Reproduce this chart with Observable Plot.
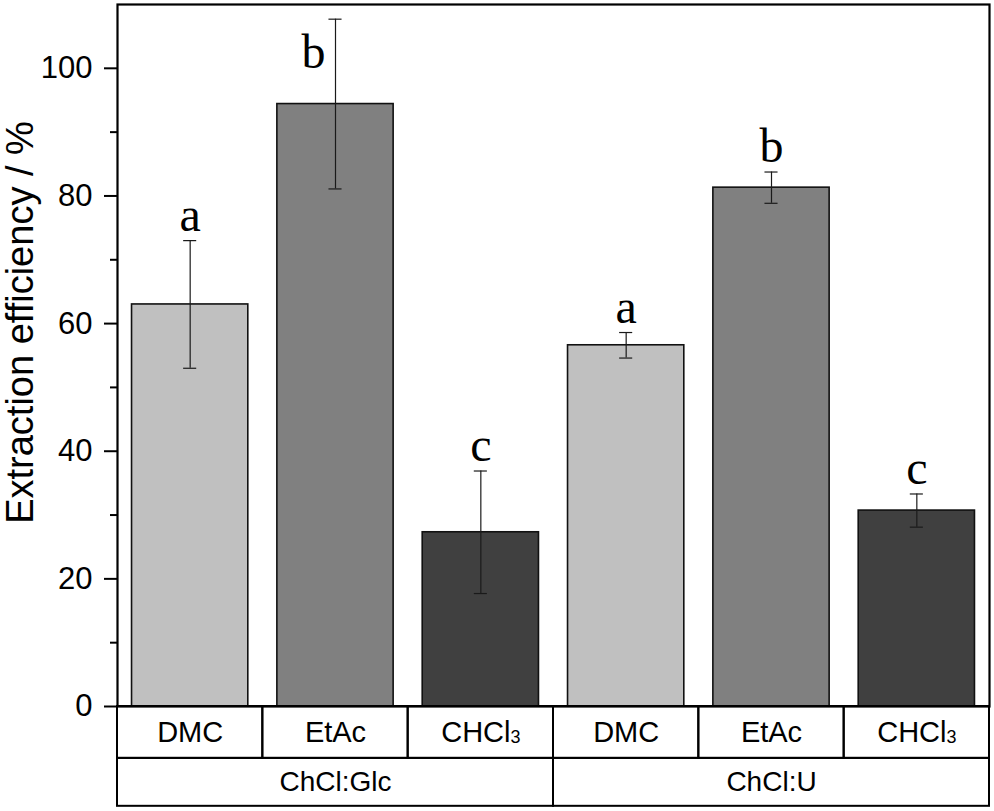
<!DOCTYPE html>
<html>
<head>
<meta charset="utf-8">
<script src="https://cdn.jsdelivr.net/npm/d3@7"></script>
<script src="https://cdn.jsdelivr.net/npm/@observablehq/plot@0.6"></script>
<style>
  html, body { margin: 0; padding: 0; background: #fff; }
  #chart svg { display: block; }
</style>
</head>
<body>
<div id="chart"></div>
<script>
// ---- data ----
const groups = ["ChCl:Glc", "ChCl:U"];
const solvents = ["DMC", "EtAc", "CHCl3"];
const meansGlc = [63.0, 94.4, 27.3];
const meansU = [56.6, 81.3, 30.7];
const errGlc = [10.0, 13.3, 9.6];
const errU = [2.0, 2.45, 2.6];
const lettersGlc = ["a", "b", "c"];
const lettersU = ["a", "b", "c"];
const majorTicks = [0, 20, 40, 60, 80, 100];
const minorTicks = [10, 30, 50, 70, 90];
const yLabel = "Extraction efficiency / %";

const fills = {DMC: "#c0c0c0", EtAc: "#808080", CHCl3: "#404040"};

// build table
const rows = [];
[[meansGlc, errGlc, lettersGlc], [meansU, errU, lettersU]].forEach(([m, e, l], g) => {
  solvents.forEach((s, j) => {
    const i = g * solvents.length + j;
    rows.push({i, group: groups[g], solvent: s, mean: m[j], err: e[j], letter: l[j]});
  });
});
const groupRows = groups.map((g, k) => ({group: g, x1: k * solvents.length, x2: (k + 1) * solvents.length}));

// layout (y in data units extends below 0 for the category table)
const row1 = [0, -8.13];
const row2 = [-8.13, -15.64];
const capHalf = 0.045;

const sans = "Arial, 'Liberation Sans', sans-serif";
const serif = "'Times New Roman', 'Liberation Serif', serif";

const plot = Plot.plot({
  width: 994,
  height: 811,
  marginLeft: 117,
  marginRight: 5,
  marginTop: 4,
  marginBottom: 105,
  style: {background: "#fff", fontFamily: sans, color: "#000"},
  x: {domain: [0, rows.length], axis: null},
  y: {domain: [0, 110], axis: null},
  marks: [
    // bars
    Plot.rect(rows, {
      x1: d => d.i + 0.1, x2: d => d.i + 0.9, y1: 0, y2: "mean",
      fill: d => fills[d.solvent], stroke: "#111", strokeWidth: 1.6
    }),
    // error bars
    Plot.ruleX(rows, {x: d => d.i + 0.5, y1: d => d.mean - d.err, y2: d => d.mean + d.err, stroke: "#1a1a1a", strokeWidth: 1.2}),
    Plot.ruleY(rows, {y: d => d.mean + d.err, x1: d => d.i + 0.5 - capHalf, x2: d => d.i + 0.5 + capHalf, stroke: "#1a1a1a", strokeWidth: 1.2}),
    Plot.ruleY(rows, {y: d => d.mean - d.err, x1: d => d.i + 0.5 - capHalf, x2: d => d.i + 0.5 + capHalf, stroke: "#1a1a1a", strokeWidth: 1.2}),
    // significance letters
    Plot.text(rows.filter(d => d.mean + d.err <= 100), {
      x: d => d.i + 0.5, y: d => d.mean + d.err, text: "letter",
      dy: -10, lineAnchor: "bottom", fontSize: 48, fontFamily: serif, fill: "#000"
    }),
    Plot.text(rows.filter(d => d.mean + d.err > 100), {
      x: d => d.i + 0.5, y: 100, text: "letter",
      dx: -22, lineAnchor: "bottom", fontSize: 48, fontFamily: serif, fill: "#000"
    }),
    // y axis
    Plot.axisY(majorTicks, {tickSize: 13, text: null, strokeWidth: 2, anchor: "left", label: null}),
    Plot.axisY(minorTicks, {tickSize: 7, text: null, strokeWidth: 2, anchor: "left", label: null}),
    Plot.text(majorTicks, {y: d => d, text: d => String(d), frameAnchor: "left", textAnchor: "end", dx: -25, fontSize: 31, fill: "#000"}),
    Plot.text([yLabel], {frameAnchor: "left", textAnchor: "middle", dx: -97, dy: -33, rotate: -90, fontSize: 38, fill: "#000"}),
    // category table
    Plot.rect(rows, {x1: d => d.i, x2: d => d.i + 1, y1: row1[0], y2: row1[1], fill: "none", stroke: "#000", strokeWidth: 2}),
    Plot.rect(groupRows, {x1: "x1", x2: "x2", y1: row2[0], y2: row2[1], fill: "none", stroke: "#000", strokeWidth: 2}),
    Plot.text(rows, {x: d => d.i + 0.5, y: (row1[0] + row1[1]) / 2, text: "solvent", fontSize: 29, fill: "#000"}),
    Plot.text(groupRows, {x: d => (d.x1 + d.x2) / 2, y: (row2[0] + row2[1]) / 2, text: "group", fontSize: 28, fill: "#000"}),
    Plot.frame({stroke: "#000", strokeWidth: 2.2})
  ]
});

// subscript the 3 in CHCl3
d3.select(plot).selectAll("text").each(function() {
  const t = d3.select(this);
  if (t.text() === "CHCl3" && t.selectAll("tspan").empty()) {
    t.text("CHCl");
    t.append("tspan").attr("font-size", "0.62em").attr("dy", "0.05em").text("3");
  }
});

document.getElementById("chart").appendChild(plot);
</script>
</body>
</html>
